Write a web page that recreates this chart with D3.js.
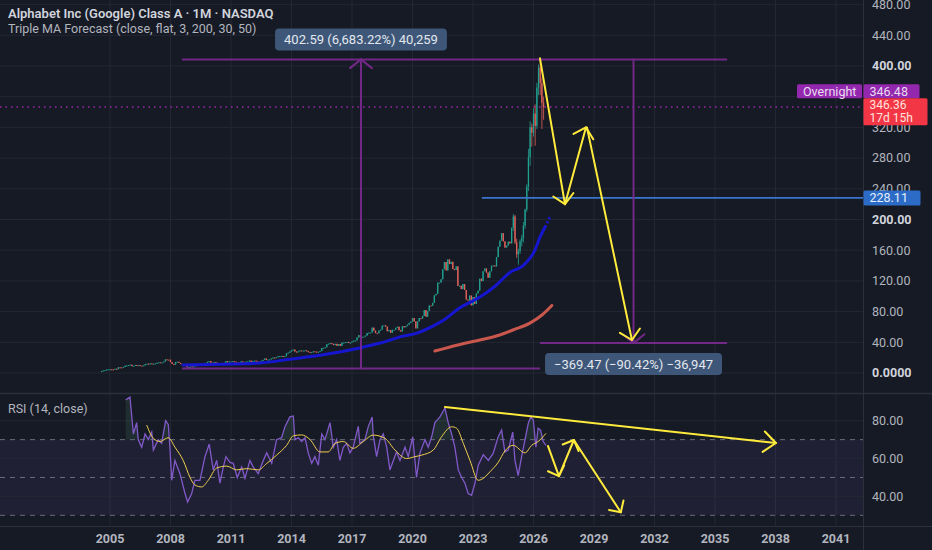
<!DOCTYPE html>
<html>
<head>
<meta charset="utf-8">
<script src="https://cdn.jsdelivr.net/npm/d3@7"></script>
<style>
  html, body { margin: 0; padding: 0; background: #161a25; }
  svg { display: block; font-family: Roboto, "Open Sans", sans-serif; }
</style>
</head>
<body>
<svg id="chart" width="932" height="550"></svg>
<script>
// ---- monthly closes (GOOGL, split adjusted), first bar Aug 2004 ----
const ipoOpen = 2.5;
const c2004 = [2.6, 3.3, 3.8, 4.5, 4.8];
const c2005 = [4.9, 4.7, 4.5, 5.5, 5.0, 7.5, 7.3, 7.2, 7.9, 9.6, 9.8, 10.3];
const c2006 = [10.8, 9.0, 9.2, 10.4, 9.4, 10.3, 9.6, 9.5, 10.0, 11.8, 12.1, 11.5];
const c2007 = [12.5, 11.8, 12.0, 12.6, 13.3, 13.9, 13.6, 13.8, 15.0, 17.8, 17.4, 17.3];
const c2008 = [14.1, 11.8, 11.0, 14.4, 14.6, 13.2, 11.8, 11.6, 10.0, 9.0, 7.3, 7.7];
const c2009 = [8.5, 8.4, 8.7, 9.9, 10.4, 10.5, 11.1, 11.6, 12.4, 13.2, 14.6, 15.5];
const c2010 = [13.3, 13.2, 14.2, 13.2, 12.2, 11.1, 12.1, 11.3, 13.2, 15.4, 13.9, 14.9];
const c2011 = [15.0, 15.4, 14.7, 13.6, 13.3, 12.7, 15.1, 13.6, 12.9, 14.9, 15.0, 16.2];
const c2012 = [14.6, 15.5, 16.1, 15.2, 14.5, 14.5, 15.9, 17.1, 18.9, 17.0, 17.4, 17.7];
const c2013 = [18.9, 20.1, 19.9, 20.7, 21.8, 22.0, 22.2, 21.2, 21.9, 25.6, 26.5, 28.0];
const c2014 = [29.5, 30.5, 27.9, 26.9, 28.2, 29.4, 29.1, 29.2, 29.5, 28.4, 27.5, 26.6];
const c2015 = [27.0, 28.2, 27.8, 27.4, 27.6, 28.6, 32.5, 32.8, 33.5, 37.5, 38.1, 38.9];
const c2016 = [38.0, 36.3, 38.0, 35.4, 37.7, 35.4, 39.6, 39.7, 40.2, 40.5, 39.0, 39.6];
const c2017 = [41.0, 42.3, 42.4, 46.3, 49.4, 46.5, 47.3, 47.3, 48.7, 52.0, 52.6, 52.7];
const c2018 = [59.1, 55.2, 51.9, 51.7, 55.2, 56.5, 61.6, 62.1, 60.4, 54.4, 55.9, 52.2];
const c2019 = [56.3, 56.3, 58.9, 60.3, 55.7, 54.1, 61.0, 59.5, 61.1, 63.0, 65.3, 67.0];
const c2020 = [71.6, 67.2, 58.1, 67.3, 71.5, 70.9, 74.4, 82.0, 73.3, 80.8, 88.0, 87.6];
const c2021 = [91.4, 101.1, 103.1, 117.7, 117.8, 122.1, 135.2, 144.6, 133.6, 148.0, 141.9, 144.9];
const c2022 = [135.3, 134.2, 138.9, 113.4, 113.7, 109.3, 115.9, 108.2, 95.7, 94.5, 100.9, 88.2];
const c2023 = [98.8, 90.1, 103.7, 107.3, 122.9, 119.7, 132.6, 136.2, 130.9, 124.1, 132.5, 139.7];
const c2024 = [140.1, 138.8, 150.9, 164.6, 172.5, 182.2, 171.5, 163.4, 165.9, 171.1, 168.9, 189.3];
const c2025 = [204.0, 170.3, 154.6, 158.8, 171.7, 176.2, 191.9, 212.9, 243.1, 281.2, 320.2, 313.0];
const c2026 = [338.0, 322.0, 372.0, 398.0, 378.0, 352.0, 346.36];

// wicks for the last 19 bars (Jan 2025 on), where they are visible
const recentHighs = [207, 206, 175, 162, 174, 180, 197, 214, 246, 292, 328, 325,
                     345, 350, 378, 402, 410, 385, 360];
const recentLows = [185, 168, 150, 141, 155, 165, 170, 188, 210, 237, 270, 295,
                    308, 296, 318, 362, 362, 318, 330];

// Triple MA forecast lines (decimal year, price)
const maBlueT = [2008.62, 2010.45, 2012.44, 2013.92, 2015.41, 2017.44, 2018.39, 2019.53, 2020.22,
                 2021.01, 2021.61, 2022.35, 2022.85, 2023.34, 2024.09, 2024.83, 2025.48, 2026.07,
                 2026.32, 2026.57, 2026.81];
const maBlueV = [10.4, 11.5, 13, 18, 23, 33, 39, 48, 52, 61, 70, 85, 92, 99, 113, 131, 140, 160,
                 177, 190, 203];
const maRedT = [2021.11, 2022.25, 2023.34, 2024.33, 2024.98, 2025.82, 2026.42, 2026.91];
const maRedV = [28.6, 36.5, 43, 49.5, 56, 65, 75.6, 88];

// RSI (14) and its moving average
const rsiT = [2005.78, 2005.99, 2006.16, 2006.32, 2006.40, 2006.57, 2006.74, 2006.90, 2007.07, 2007.15,
  2007.39, 2007.56, 2007.76, 2007.89, 2007.97, 2008.06, 2008.22, 2008.47, 2008.72, 2008.85, 2009.05,
  2009.21, 2009.46, 2009.71, 2009.92, 2010.12, 2010.29, 2010.45, 2010.62, 2010.75, 2010.95, 2011.11,
  2011.31, 2011.53, 2011.69, 2011.94, 2012.10, 2012.35, 2012.60, 2012.77, 2013.02, 2013.26, 2013.51,
  2013.68, 2013.92, 2014.09, 2014.17, 2014.34, 2014.50, 2014.67, 2014.83, 2015.00, 2015.16, 2015.33,
  2015.50, 2015.66, 2015.91, 2016.07, 2016.24, 2016.40, 2016.57, 2016.74, 2016.90, 2017.06, 2017.31,
  2017.39, 2017.64, 2017.81, 2018.00, 2018.05, 2018.22, 2018.39, 2018.55, 2018.72, 2018.88, 2019.05,
  2019.21, 2019.38, 2019.63, 2019.79, 2020.01, 2020.20, 2020.37, 2020.62, 2020.78, 2020.95, 2021.11,
  2021.36, 2021.61, 2021.77, 2021.94, 2022.10, 2022.27, 2022.44, 2022.60, 2022.76, 2022.93, 2023.10,
  2023.26, 2023.51, 2023.76, 2024.00, 2024.25, 2024.42, 2024.58, 2024.75, 2024.97, 2025.08, 2025.24,
  2025.41, 2025.58, 2025.74, 2025.86, 2025.99, 2026.12, 2026.23, 2026.35, 2026.48, 2026.62];
const rsiV = [91, 92.4, 73, 79, 70, 66, 73, 70, 74, 64.5, 70, 68, 80, 78, 66, 48.5, 59, 52, 41.5, 37,
  41.5, 48.5, 48.5, 61, 67.6, 54, 59, 47, 55.6, 61, 58, 57.5, 50, 55.6, 49.5, 59, 55.6, 52, 59, 63,
  57.5, 70, 71, 77, 82, 82.5, 70, 71, 69, 71, 63, 57.5, 61, 56.5, 73, 70, 79, 66, 70, 59, 66, 68, 63,
  66, 77, 68, 70, 77, 82, 72.5, 61, 70, 73, 66, 54, 59, 63.5, 59, 66, 61, 71.5, 50, 63, 70, 66, 71.5,
  79, 82, 86.7, 79, 73, 66, 54, 50, 47, 41.5, 40.6, 47, 56.5, 62, 59, 62.7, 71.5, 75, 63.5, 64.5, 74,
  59, 51, 61, 70, 78.6, 82, 80.4, 66, 76, 75, 69, 67];
const rsiMaT = [2006.82, 2007.15, 2007.48, 2007.89, 2008.22, 2008.63, 2008.97, 2009.21, 2009.55, 2009.87,
  2010.29, 2010.79, 2011.28, 2011.78, 2012.35, 2012.77, 2013.26, 2013.76, 2014.09, 2014.50, 2014.92,
  2015.41, 2015.82, 2016.16, 2016.57, 2017.06, 2017.56, 2018.05, 2018.63, 2019.13, 2019.71, 2020.12,
  2020.45, 2021.03, 2021.44, 2021.94, 2022.19, 2022.52, 2022.85, 2023.26, 2023.43, 2023.84, 2024.25,
  2024.58, 2024.99, 2025.58, 2025.91, 2026.23, 2026.62];
const rsiMaV = [77.7, 70.7, 69, 71, 66, 59, 50, 46, 45, 48.5, 55, 56, 54, 54.7, 54, 57.4, 61.8, 67, 72,
  72.5, 70, 63.5, 63.5, 68, 69, 65.4, 69, 72.4, 70.7, 64.5, 60, 61, 61.8, 64.5, 71.5, 76.8, 76, 68, 59,
  48.5, 49, 53, 58, 64, 67, 63, 67, 69, 73.3];

// axes
const priceTicks = d3.range(0, 481, 40);
const hiddenPriceTicks = [360]; // sits under the last-price tag
const rsiTicks = [40, 60, 80];
const rsiLevels = [30, 50, 70];
const yearTicks = d3.range(2005, 2042, 3);

// drawings: measure tool (start, end time; from, to price)
const measureUp = { t0: 2008.57, t1: 2026.32, p0: 6.02, p1: 408.61, label: "402.59 (6,683.22%) 40,259" };
const measureDown = { t0: 2026.32, t1: 2035.6, p0: 408.61, p1: 39.14, label: "\u2212369.47 (\u221290.42%) \u221236,947" };
const hLinePrice = 228.11, hLineStart = 2023.44;
const overnightPrice = 346.48, lastPrice = 346.36;
// yellow arrows: [t, value] pairs
const priceArrows = [
  [[2026.32, 410], [2027.56, 220]],
  [[2027.56, 220], [2028.6, 320]],
  [[2028.65, 320], [2030.88, 43]]
];
const rsiArrows = [
  [[2021.61, 87.3], [2038.02, 68.2]],
  [[2026.72, 66.6], [2027.26, 50.7]],
  [[2027.26, 50.7], [2028.0, 69.8]],
  [[2028.0, 69.8], [2030.33, 31.6]]
];

// ---------------------------------------------------------------
const W = 932, H = 550;
const axisX = 863;
const paneSplit = 393, rsiBottom = 526;
const bg = "#161a25", grid = "#232733", border = "#2c303b";
const upColor = "#22a08f", downColor = "#e0625a";
const yellow = "#ffeb3b", purple = "#7d2a92";

const svg = d3.select("#chart");
svg.append("rect").attr("width", W).attr("height", H).attr("fill", bg);

const x = d3.scaleLinear().domain([2005, 2041]).range([110, 836]);
const yPrice = d3.scaleLinear().domain([0, 480]).range([373, 4.6]);
const yRsi = d3.scaleLinear().domain([40, 80]).range([496.4, 420.7]);

const defs = svg.append("defs");
defs.append("clipPath").attr("id", "clipPrice")
  .append("rect").attr("x", 0).attr("y", 0).attr("width", axisX).attr("height", paneSplit);
defs.append("clipPath").attr("id", "clipRsi")
  .append("rect").attr("x", 0).attr("y", paneSplit + 1).attr("width", axisX).attr("height", rsiBottom - paneSplit - 1);
defs.append("clipPath").attr("id", "clipOb")
  .append("rect").attr("x", 0).attr("y", paneSplit + 1).attr("width", axisX).attr("height", yRsi(70) - paneSplit - 1);

// grid
const gridG = svg.append("g");
gridG.selectAll(".vgrid").data(yearTicks).join("line")
  .attr("x1", d => x(d)).attr("x2", d => x(d))
  .attr("y1", 0).attr("y2", rsiBottom)
  .attr("stroke", grid).attr("stroke-width", 1);
gridG.selectAll(".hgrid").data(priceTicks).join("line")
  .attr("x1", 0).attr("x2", axisX)
  .attr("y1", d => yPrice(d)).attr("y2", d => yPrice(d))
  .attr("stroke", grid).attr("stroke-width", 1);

// ---- RSI pane background ----
const rsiG = svg.append("g").attr("clip-path", "url(#clipRsi)");
rsiG.append("rect")
  .attr("x", 0).attr("width", axisX)
  .attr("y", yRsi(70)).attr("height", yRsi(30) - yRsi(70))
  .attr("fill", "rgba(126,87,194,0.10)");
rsiG.selectAll(".rgrid").data(rsiTicks).join("line")
  .attr("x1", 0).attr("x2", axisX)
  .attr("y1", d => yRsi(d)).attr("y2", d => yRsi(d))
  .attr("stroke", grid);
rsiG.selectAll(".rlevel").data(rsiLevels).join("line")
  .attr("x1", 0).attr("x2", axisX)
  .attr("y1", d => yRsi(d)).attr("y2", d => yRsi(d))
  .attr("stroke", "#6a6d78").attr("stroke-dasharray", "5,5");

const rsiData = rsiT.map((t, i) => ({ t, v: rsiV[i] }));
const rsiMaData = rsiMaT.map((t, i) => ({ t, v: rsiMaV[i] }));

rsiG.append("path").datum(rsiData)
  .attr("clip-path", "url(#clipOb)")
  .attr("fill", "rgba(80,130,100,0.2)")
  .attr("d", d3.area().x(d => x(d.t)).y0(yRsi(70)).y1(d => yRsi(d.v)));
rsiG.append("path").datum(rsiData)
  .attr("fill", "none").attr("stroke", "#8159c9").attr("stroke-width", 1.3)
  .attr("d", d3.line().x(d => x(d.t)).y(d => yRsi(d.v)));
rsiG.append("path").datum(rsiMaData)
  .attr("fill", "none").attr("stroke", "#efcf4e").attr("stroke-width", 1)
  .attr("d", d3.line().curve(d3.curveMonotoneX).x(d => x(d.t)).y(d => yRsi(d.v)));

// ---- price pane ----
const priceG = svg.append("g").attr("clip-path", "url(#clipPrice)");

const closes = [].concat(c2004, c2005, c2006, c2007, c2008, c2009, c2010, c2011, c2012, c2013,
  c2014, c2015, c2016, c2017, c2018, c2019, c2020, c2021, c2022, c2023, c2024, c2025, c2026);
const firstMonth = 2004 + 7 / 12;
const wickFrom = closes.length - recentHighs.length;
const bars = closes.map((c, i) => {
  const o = i === 0 ? ipoOpen : closes[i - 1];
  const j = i - wickFrom;
  return {
    t: firstMonth + i / 12, o, c,
    h: j >= 0 ? recentHighs[j] : Math.max(o, c),
    l: j >= 0 ? recentLows[j] : Math.min(o, c)
  };
});

priceG.append("line")
  .attr("x1", 0).attr("x2", axisX)
  .attr("y1", yPrice(overnightPrice)).attr("y2", yPrice(overnightPrice))
  .attr("stroke", "#9c27b0").attr("stroke-width", 1.5).attr("stroke-dasharray", "1.5,4");

const candleG = priceG.append("g");
candleG.selectAll(".wick").data(bars).join("line")
  .attr("x1", d => x(d.t)).attr("x2", d => x(d.t))
  .attr("y1", d => yPrice(d.h)).attr("y2", d => yPrice(d.l))
  .attr("stroke", d => d.c >= d.o ? upColor : downColor).attr("stroke-width", 0.8);
candleG.selectAll(".body").data(bars).join("rect")
  .attr("x", d => x(d.t) - 0.65).attr("width", 1.3)
  .attr("y", d => yPrice(Math.max(d.o, d.c)))
  .attr("height", d => Math.max(1, Math.abs(yPrice(d.o) - yPrice(d.c))))
  .attr("fill", d => d.c >= d.o ? upColor : downColor);

const maLine = d3.line().curve(d3.curveMonotoneX).x(d => x(d.t)).y(d => yPrice(d.v));
const blueData = maBlueT.map((t, i) => ({ t, v: maBlueV[i] }));
const redData = maRedT.map((t, i) => ({ t, v: maRedV[i] }));
priceG.append("path").datum(blueData.filter(d => d.t <= 2026.57))
  .attr("fill", "none").attr("stroke", "#1616cf").attr("stroke-width", 3)
  .attr("stroke-linecap", "round").attr("d", maLine);
priceG.append("path").datum(blueData.filter(d => d.t >= 2026.57))
  .attr("fill", "none").attr("stroke", "#1616cf").attr("stroke-width", 3)
  .attr("stroke-dasharray", "2,2.5").attr("d", maLine);
priceG.append("path").datum(redData)
  .attr("fill", "none").attr("stroke", "#c9574d").attr("stroke-width", 3)
  .attr("stroke-linecap", "round").attr("d", maLine);

// arrow helper: line p0->p1 plus an open V head at p1 (pixel coords)
function arrow(g, p0, p1, color, width, headLen, headAngle) {
  g.append("line")
    .attr("x1", p0[0]).attr("y1", p0[1]).attr("x2", p1[0]).attr("y2", p1[1])
    .attr("stroke", color).attr("stroke-width", width).attr("stroke-linecap", "round");
  const a = Math.atan2(p0[1] - p1[1], p0[0] - p1[0]);
  const head = [a - headAngle, a + headAngle].map(b => [p1[0] + headLen * Math.cos(b), p1[1] + headLen * Math.sin(b)]);
  g.append("path")
    .attr("d", `M${head[0][0]},${head[0][1]}L${p1[0]},${p1[1]}L${head[1][0]},${head[1][1]}`)
    .attr("fill", "none").attr("stroke", color).attr("stroke-width", width)
    .attr("stroke-linecap", "round").attr("stroke-linejoin", "round");
}

// measure tools
const measG = svg.append("g").attr("clip-path", "url(#clipPrice)").attr("opacity", 0.9);
[measureUp, measureDown].forEach(m => {
  const xa = x(m.t0), xb = x(m.t1), xm = (xa + xb) / 2;
  [m.p0, m.p1].forEach(p => {
    measG.append("line")
      .attr("x1", xa).attr("x2", xb).attr("y1", yPrice(p)).attr("y2", yPrice(p))
      .attr("stroke", purple).attr("stroke-width", 2);
  });
  arrow(measG, [xm, yPrice(m.p0)], [xm, yPrice(m.p1)], purple, 2, 14, 0.9);
});

// horizontal line 228.11
priceG.append("line")
  .attr("x1", x(hLineStart)).attr("x2", axisX)
  .attr("y1", yPrice(hLinePrice)).attr("y2", yPrice(hLinePrice))
  .attr("stroke", "#3a74cc").attr("stroke-width", 1.8);

// yellow arrows
const arrowG = svg.append("g").attr("clip-path", "url(#clipPrice)");
priceArrows.forEach(([a, b]) => {
  arrow(arrowG, [x(a[0]), yPrice(a[1])], [x(b[0]), yPrice(b[1])], yellow, 2, 14, 0.82);
});
const rsiArrowG = svg.append("g").attr("clip-path", "url(#clipRsi)");
rsiArrows.forEach(([a, b], i) => {
  arrow(rsiArrowG, [x(a[0]), yRsi(a[1])], [x(b[0]), yRsi(b[1])], yellow, 2, i === 0 ? 16 : 12, i === 0 ? 0.7 : 0.8);
});

// measure labels
[measureUp, measureDown].forEach((m, i) => {
  const xm = (x(m.t0) + x(m.t1)) / 2;
  const yEdge = i === 0 ? yPrice(m.p1) - 31 : yPrice(m.p1) + 10;
  const g = svg.append("g");
  const txt = g.append("text")
    .attr("x", xm).attr("y", yEdge + 11).attr("dy", "0.35em")
    .attr("text-anchor", "middle").attr("font-size", 13)
    .attr("fill", "#e3e7ee").text(m.label);
  const bb = txt.node().getBBox();
  g.insert("rect", "text")
    .attr("x", bb.x - 9).attr("width", bb.width + 18)
    .attr("y", yEdge).attr("height", 22).attr("rx", 4)
    .attr("fill", "#3e5779");
});

// ---- separators ----
svg.append("line").attr("x1", 0).attr("x2", W).attr("y1", paneSplit + 0.5).attr("y2", paneSplit + 0.5)
  .attr("stroke", border).attr("stroke-width", 1.5);
svg.append("line").attr("x1", 0).attr("x2", W).attr("y1", rsiBottom + 0.5).attr("y2", rsiBottom + 0.5)
  .attr("stroke", border);
svg.append("line").attr("x1", axisX + 0.5).attr("x2", axisX + 0.5).attr("y1", 0).attr("y2", H)
  .attr("stroke", border);

// ---- axis labels ----
const labelColor = "#b2b5be";
svg.append("g").selectAll("text").data(priceTicks.filter(d => !hiddenPriceTicks.includes(d))).join("text")
  .attr("x", 872).attr("y", d => yPrice(d)).attr("dy", "0.35em")
  .attr("font-size", 12.5)
  .attr("font-weight", d => d % 200 === 0 ? 700 : 400)
  .attr("fill", d => d % 200 === 0 ? "#d1d4dc" : labelColor)
  .text(d => d === 0 ? "0.0000" : d.toFixed(2));
svg.append("g").selectAll("text").data(rsiTicks).join("text")
  .attr("x", 872).attr("y", d => yRsi(d)).attr("dy", "0.35em")
  .attr("font-size", 12.5).attr("fill", labelColor)
  .text(d => d.toFixed(2));
svg.append("g").selectAll("text").data(yearTicks).join("text")
  .attr("x", d => x(d)).attr("y", 539).attr("dy", "0.35em")
  .attr("text-anchor", "middle").attr("font-size", 12.5).attr("font-weight", 700)
  .attr("fill", labelColor)
  .text(d => d);

// price axis tags
function tag(x0, y0, w, h, fill, lines, textFill, size = 12.5, step = 13) {
  const g = svg.append("g");
  g.append("rect").attr("x", x0).attr("y", y0).attr("width", w).attr("height", h)
    .attr("rx", 1.5).attr("fill", fill);
  lines.forEach((s, i) => {
    g.append("text").attr("x", x0 + 6).attr("y", y0 + 7 + i * step).attr("dy", "0.35em")
      .attr("font-size", size).attr("fill", textFill).text(s);
  });
}
const yLast = yPrice(lastPrice);
tag(797, yLast - 23, 65, 14, "#9327ad", ["Overnight"], "#eadcf0");
tag(axisX + 0.5, yLast - 23, 56, 14, "#9327ad", [overnightPrice.toFixed(2)], "#eadcf0");
tag(axisX + 0.5, yLast - 9, 64, 27, "#f23645", [lastPrice.toFixed(2), "17d 15h"], "#ffe3dc", 12, 13);
tag(axisX + 0.5, yPrice(hLinePrice) - 7.5, 57, 15, "#2c6cc6", [hLinePrice.toFixed(2)], "#e6eefb");

// ---- legends ----
svg.append("text").attr("x", 8).attr("y", 18)
  .attr("font-size", 13).attr("font-weight", 600).attr("fill", "#d1d4dc")
  .text("Alphabet Inc (Google) Class A · 1M · NASDAQ");
svg.append("text").attr("x", 8).attr("y", 33)
  .attr("font-size", 12.5).attr("fill", "#b2b5be")
  .text("Triple MA Forecast (close, flat, 3, 200, 30, 50)");
svg.append("text").attr("x", 8).attr("y", 413)
  .attr("font-size", 12.5).attr("fill", "#b2b5be")
  .text("RSI (14, close)");
</script>
</body>
</html>
